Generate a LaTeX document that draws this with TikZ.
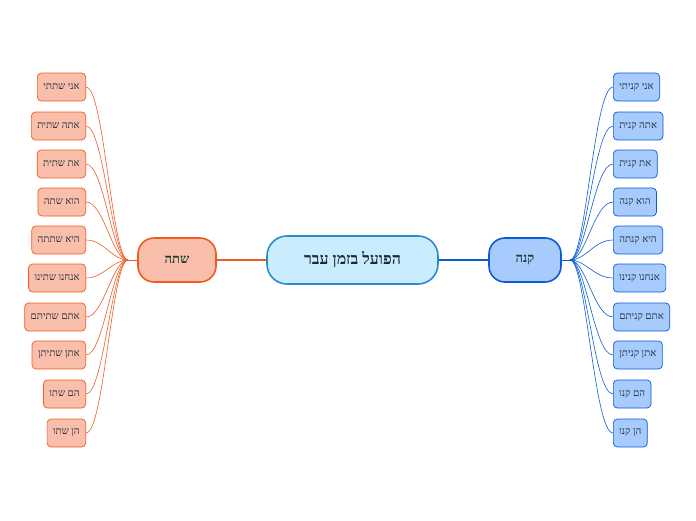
\documentclass[tikz,border=0pt]{standalone}
\usepackage{fontspec}
\setmainfont{Liberation Serif}
\newfontfamily\heb[Script=Hebrew]{Liberation Serif}
\TeXXeTstate=1
\definecolor{lfill}{HTML}{F9BFAA}
\definecolor{ldraw}{HTML}{F25A22}
\definecolor{rfill}{HTML}{A8CBFD}
\definecolor{rdraw}{HTML}{0A5BD6}
\definecolor{cfill}{HTML}{C9EDFD}
\definecolor{cdraw}{HTML}{2A8BD0}
\definecolor{txt}{HTML}{1A2A3A}
\definecolor{htxt}{HTML}{1E3D2E}
\begin{document}
\begin{tikzpicture}[x=1pt,y=-1pt,
  leafL/.style={draw=ldraw,fill=lfill,rounded corners=4pt,minimum height=28pt,inner xsep=6pt,anchor=east,font=\heb\fontsize{10}{12}\selectfont,text=txt,line width=0.7pt},
  leafR/.style={draw=rdraw,fill=rfill,rounded corners=4pt,minimum height=28pt,inner xsep=6pt,anchor=west,font=\heb\fontsize{10}{12}\selectfont,text=txt,line width=0.7pt},
  hub/.style={rounded corners=16pt,minimum height=44pt,line width=1.6pt,font=\heb\bfseries\fontsize{13}{15}\selectfont,text=htxt},
  lcon/.style={draw=ldraw,line width=0.6pt},
  rcon/.style={draw=rdraw,line width=0.6pt}]
\useasboundingbox (0,0) rectangle (696,520);
\node[hub,draw=cdraw,fill=cfill,minimum width=171pt,minimum height=48pt,rounded corners=20pt,font=\heb\bfseries\fontsize{16}{18}\selectfont,text=txt] (c) at (352.5,260) {\beginR הפועל בזמן עבר\endR};
\node[hub,draw=ldraw,fill=lfill,minimum width=78pt] (L) at (177,260) {\beginR שתה\endR};
\node[hub,draw=rdraw,fill=rfill,minimum width=72pt] (R) at (525,260) {\beginR קנה\endR};
\draw[ldraw,line width=2pt] (c.west) -- (L.east);
\draw[rdraw,line width=2pt] (c.east) -- (R.west);
\coordinate (jl) at (128,260);
\coordinate (jr) at (570,260);
\draw[ldraw,line width=1pt] (L.west) -- (jl);
\draw[rdraw,line width=1pt] (R.east) -- (jr);
\foreach \i/\y/\t in {1/87/אני שתתי,2/126/אתה שתית,3/164/את שתית,4/202/הוא שתה,5/240/היא שתתה,6/278/אנחנו שתינו,7/317/אתם שתיתם,8/355/אתן שתיתן,9/394/הם שתו,10/433/הן שתו}{
  \node[leafL] (l\i) at (86,\y) {\beginR\t\endR};
  \draw[lcon] (jl) .. controls (112,260) and (104,\y) .. (l\i.east);
}
\foreach \i/\y/\t in {1/87/אני קניתי,2/126/אתה קנית,3/164/את קנית,4/202/הוא קנה,5/240/היא קנתה,6/278/אנחנו קנינו,7/317/אתם קניתם,8/355/אתן קניתן,9/394/הם קנו,10/433/הן קנו}{
  \node[leafR] (r\i) at (613,\y) {\beginR\t\endR};
  \draw[rcon] (jr) .. controls (586,260) and (594,\y) .. (r\i.west);
}
\end{tikzpicture}
\end{document}
